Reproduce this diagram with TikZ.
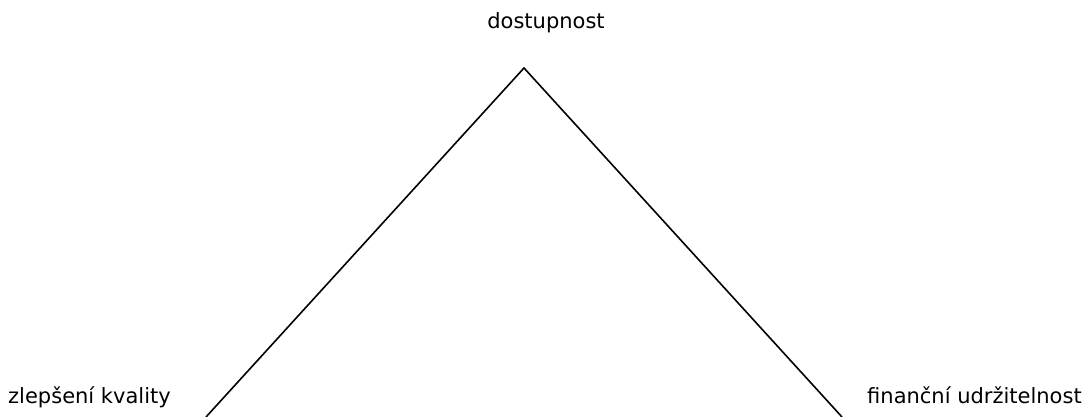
\documentclass[tikz,border=0pt]{standalone}
\usepackage{fontspec}
\setmainfont{DejaVu Sans}
\begin{document}
\begin{tikzpicture}[x=1pt,y=-1pt,
  lbl/.style={inner sep=0pt,font=\fontsize{21}{25}\selectfont},
  side/.style={draw=black,line width=1.6pt}]
\useasboundingbox (0,0) rectangle (1086,417);
\coordinate (apex) at (524,68);
\coordinate (bl) at (206,417);
\coordinate (br) at (842,417);
\draw[side] (bl) -- (apex) -- (br);
\node[lbl,anchor=base] (top) at (546,29) {dostupnost};
\node[lbl,anchor=base west] (left) at (8,403) {zlepšení kvality};
\node[lbl,anchor=base west] (right) at (867,403) {finanční udržitelnost};
\end{tikzpicture}
\end{document}
